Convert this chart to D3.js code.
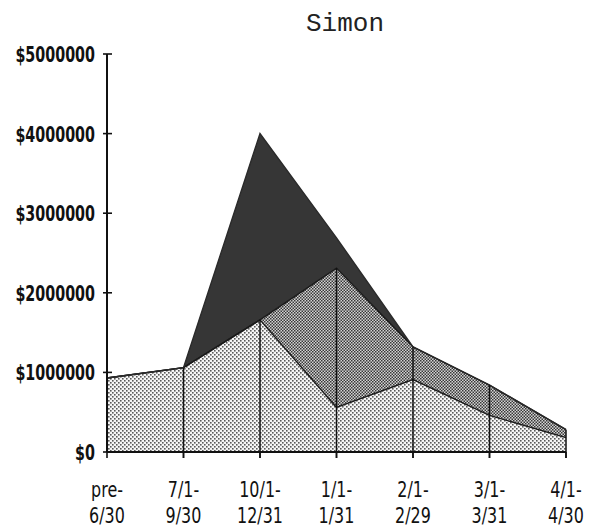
<!DOCTYPE html>
<html>
<head>
<meta charset="utf-8">
<script src="https://cdn.jsdelivr.net/npm/d3@7/dist/d3.min.js"></script>
<style>
  html, body { margin: 0; padding: 0; background: #fff; }
  svg { display: block; }
</style>
</head>
<body>
<script>
// Period buckets along the x axis (hyphen ends the first line of each label)
const categories = ["pre-6/30", "7/1-9/30", "10/1-12/31", "1/1-1/31", "2/1-2/29", "3/1-3/31", "4/1-4/30"];

// Dollar amounts per period, stacked bottom to top
const lightSeries  = [930000, 1060000, 1660000, 560000, 910000, 460000, 180000];
const mediumSeries = [0, 0, 0, 1750000, 410000, 380000, 100000];
const darkSeries   = [0, 0, 2340000, 380000, 0, 0, 0];

const yTickValues = [0, 1000000, 2000000, 3000000, 4000000, 5000000];
const chartTitle = "Simon";

const W = 597, H = 531;
const margin = { left: 107, right: 31, top: 54, bottom: 79 };

const svg = d3.select("body").append("svg")
  .attr("width", W).attr("height", H)
  .style("background", "#fff");

// Fill textures
const defs = svg.append("defs");
const pLight = defs.append("pattern").attr("id", "dotsLight")
  .attr("patternUnits", "userSpaceOnUse").attr("width", 4).attr("height", 4);
pLight.append("rect").attr("width", 4).attr("height", 4).attr("fill", "#f6f6f6");
pLight.append("rect").attr("x", 0).attr("y", 0).attr("width", 1.6).attr("height", 1.6).attr("fill", "#5a5a5a");
pLight.append("rect").attr("x", 2).attr("y", 2).attr("width", 1.6).attr("height", 1.6).attr("fill", "#5a5a5a");

const pMed = defs.append("pattern").attr("id", "dotsMedium")
  .attr("patternUnits", "userSpaceOnUse").attr("width", 3).attr("height", 3);
pMed.append("rect").attr("width", 3).attr("height", 3).attr("fill", "#d4d4d4");
pMed.append("rect").attr("x", 0).attr("y", 0).attr("width", 1.5).attr("height", 1.5).attr("fill", "#383838");
pMed.append("rect").attr("x", 1.5).attr("y", 1.5).attr("width", 1.5).attr("height", 1.5).attr("fill", "#383838");

const x = d3.scalePoint().domain(categories).range([margin.left, W - margin.right]);
const y = d3.scaleLinear().domain([0, 5000000]).range([H - margin.bottom, margin.top]);

const rows = categories.map((c, i) => ({
  cat: c, light: lightSeries[i], medium: mediumSeries[i], dark: darkSeries[i]
}));
const keys = ["light", "medium", "dark"];
const stacked = d3.stack().keys(keys)(rows);
const fills = { light: "url(#dotsLight)", medium: "url(#dotsMedium)", dark: "#363636" };

const area = d3.area()
  .x(d => x(d.data.cat))
  .y0(d => y(d[0]))
  .y1(d => y(d[1]));
const topLine = d3.line()
  .x(d => x(d.data.cat))
  .y(d => y(d[1]));

svg.append("g").selectAll("path.layer")
  .data(stacked).join("path")
  .attr("class", "layer")
  .attr("d", area)
  .attr("fill", d => fills[d.key]);

svg.append("g").selectAll("path.edge")
  .data(stacked).join("path")
  .attr("class", "edge")
  .attr("d", topLine)
  .attr("fill", "none")
  .attr("stroke", d => d.key === "dark" ? "#2a2a2a" : "#1a1a1a")
  .attr("stroke-width", 1.4);

// Drop lines from the axis up to the top of the light + medium layers
const mediumTop = stacked[1];
svg.append("g").selectAll("line.drop")
  .data(mediumTop.slice(1)).join("line")
  .attr("class", "drop")
  .attr("x1", d => x(d.data.cat)).attr("x2", d => x(d.data.cat))
  .attr("y1", y(0) + 6).attr("y2", d => y(d[1]))
  .attr("stroke", "#111").attr("stroke-width", 1.5);

// Y axis
const yAxis = svg.append("g");
yAxis.append("line")
  .attr("x1", x(categories[0])).attr("x2", x(categories[0]))
  .attr("y1", y(5000000)).attr("y2", y(0))
  .attr("stroke", "#111").attr("stroke-width", 2);
yAxis.selectAll("line.tick").data(yTickValues).join("line")
  .attr("class", "tick")
  .attr("x1", margin.left - 4).attr("x2", margin.left + 5)
  .attr("y1", d => y(d)).attr("y2", d => y(d))
  .attr("stroke", "#111").attr("stroke-width", 1.6);
yAxis.selectAll("text").data(yTickValues).join("text")
  .attr("transform", d => `translate(95,${y(d) + 8}) scale(0.65,1)`)
  .attr("text-anchor", "end")
  .attr("font-family", "DejaVu Sans, sans-serif")
  .attr("font-weight", "bold")
  .attr("font-size", 22)
  .attr("fill", "#111")
  .text(d => "$" + d3.format("d")(d));

// X axis
const xAxis = svg.append("g");
xAxis.append("line")
  .attr("x1", margin.left).attr("x2", W - margin.right)
  .attr("y1", y(0)).attr("y2", y(0))
  .attr("stroke", "#111").attr("stroke-width", 2);
xAxis.selectAll("line.tick").data(categories).join("line")
  .attr("class", "tick")
  .attr("x1", d => x(d)).attr("x2", d => x(d))
  .attr("y1", y(0)).attr("y2", y(0) + 6)
  .attr("stroke", "#111").attr("stroke-width", 1.6);
const xl = xAxis.selectAll("g.lbl").data(categories).join("g")
  .attr("class", "lbl")
  .attr("transform", d => `translate(${x(d)},0)`);
xl.each(function(d) {
  const parts = d.split(/(?<=-)/);
  const g = d3.select(this);
  parts.forEach((p, i) => {
    g.append("text")
      .attr("transform", `translate(0,${i === 0 ? 497 : 523}) scale(0.76,1)`)
      .attr("text-anchor", "middle")
      .attr("font-family", "DejaVu Sans, sans-serif")
      .attr("font-size", 21)
      .attr("fill", "#111")
      .text(p);
  });
});

// Title
svg.append("text")
  .attr("x", 345).attr("y", 31)
  .attr("text-anchor", "middle")
  .attr("font-family", "Liberation Mono, monospace")
  .attr("font-size", 26)
  .attr("fill", "#222")
  .text(chartTitle);
</script>
</body>
</html>
